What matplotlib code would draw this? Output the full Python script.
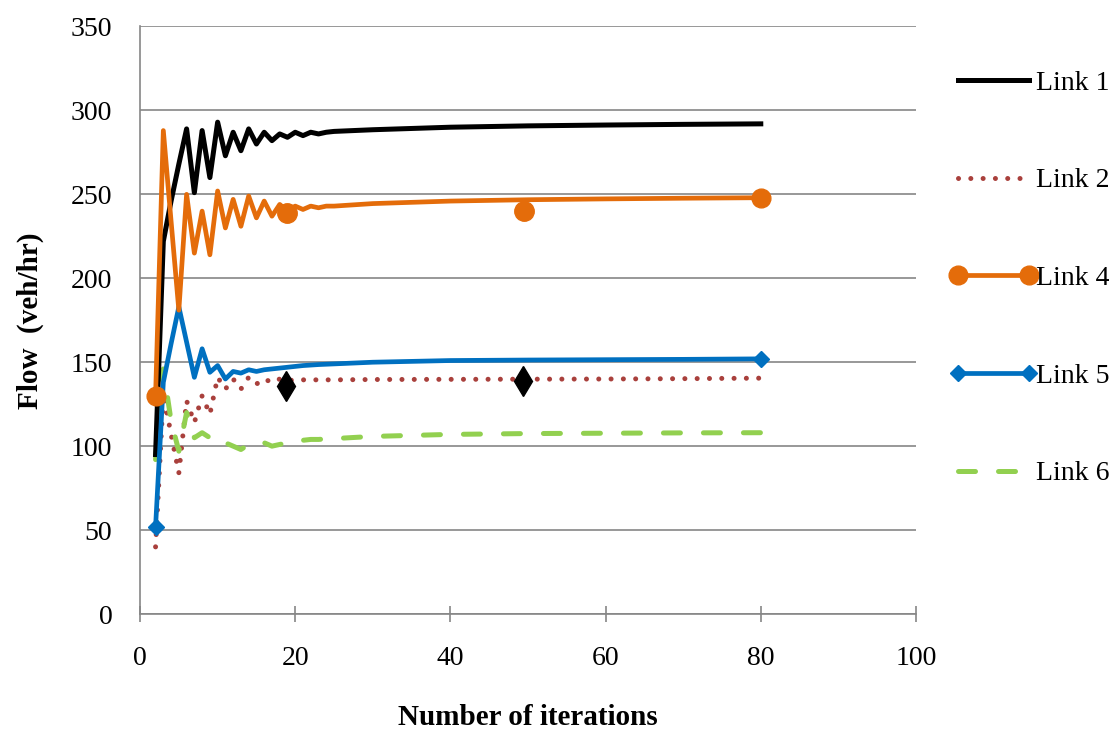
import matplotlib
matplotlib.use("Agg")
import matplotlib.pyplot as plt

plt.rcParams['font.family'] = ['Liberation Serif', 'DejaVu Serif']

# ---- data ----
iters = [2, 3, 4, 5, 6, 7, 8, 9, 10, 11, 12, 13, 14, 15, 16, 17, 18, 19, 20,
         21, 22, 23, 24, 25, 30, 40, 50, 60, 70, 80]
link1 = [95, 222, 246, 268, 289, 251, 288, 260, 293, 273, 287, 276, 289, 280,
         287, 282, 286, 284, 287, 285, 287, 286, 287, 287.5, 288.5, 290, 290.8,
         291.3, 291.7, 292]
link2 = [40, 131, 107, 84, 127, 114, 130, 119, 141, 134, 140, 134, 141, 137,
         140, 138, 140, 139, 139.5, 139.5, 139.5, 139.5, 139.5, 139.5, 139.7,
         139.8, 139.9, 140, 140.2, 140.5]
link4 = [130, 288, 234, 181, 250, 215, 240, 214, 252, 230, 247, 231, 249, 236,
         246, 237, 244, 240, 243, 241, 243, 242, 243, 243, 244.5, 246, 246.8,
         247.3, 247.7, 248]
link5 = [52, 138, 161, 183, 162, 141, 158, 144, 148, 140, 144.5, 143.5, 145.5,
         144.5, 145.5, 146, 146.5, 147, 147.5, 148, 148.3, 148.6, 148.8, 149,
         150, 151, 151.3, 151.5, 151.7, 152]
link6 = [92, 146, 115, 97, 120, 105, 108, 105, 106, 102, 100, 98, 101, 102.5,
         102, 100, 101, 102, 103, 103.5, 104, 104, 104.3, 104.5, 105.8, 107,
         107.5, 107.7, 107.9, 108]

# separately marked points
link4_pts_x = [19, 49.5]
link4_pts = [238.6, 240.2]
link2_pts_x = [18.8, 49.4]
link2_pts = [135.7, 138.7]

# marker positions on the lines (first and last point)
marker_idx = [0, len(iters) - 1]

xticks = [0, 20, 40, 60, 80, 100]
yticks = [0, 50, 100, 150, 200, 250, 300, 350]

# ---- style ----
C1 = '#000000'
C2 = '#A9403C'
C4 = '#E46C0A'
C5 = '#0070C0'
C6 = '#92D050'
GRID = '#868686'
FS = 20

fig = plt.figure(figsize=(11.15, 7.32), dpi=100)
ax = fig.add_axes([0.1256, 0.1612, 0.6959, 0.8026])

ax.plot(iters, link1, color=C1, lw=3.6, solid_joinstyle='round', label='Link 1', zorder=5)
ax.plot(iters, link2, color=C2, lw=3.6, linestyle=(0, (0.01, 2.45)),
        dash_capstyle='round', label='Link 2', zorder=4)
ax.plot(iters, link4, color=C4, lw=3.4, marker='o', ms=13.5, markevery=marker_idx,
        solid_joinstyle='round', label='Link 4', zorder=6)
ax.plot(iters, link5, color=C5, lw=3.4, marker='D', ms=8.5, markevery=marker_idx,
        solid_joinstyle='round', label='Link 5', zorder=5)
ax.plot(iters, link6, color=C6, lw=3.6, linestyle=(0, (3.4, 4.6)),
        dash_capstyle='round', label='Link 6', zorder=4)

ax.plot(link4_pts_x, link4_pts, linestyle='none', marker='o', ms=14, color=C4, zorder=7)
ax.plot(link2_pts_x, link2_pts, linestyle='none', marker='d', ms=15, color='black', zorder=7)

ax.set_xlim(0, 100)
ax.set_ylim(0, 350)
ax.set_xticks(xticks)
ax.set_yticks(yticks)
ax.tick_params(axis='x', direction='inout', length=12, width=1.2, color=GRID,
               labelsize=FS, pad=17)
ax.tick_params(axis='y', length=0, labelsize=FS, pad=20)

ax.grid(axis='y', color=GRID, lw=1.2)
ax.set_axisbelow(True)
for s in ['top', 'right']:
    ax.spines[s].set_visible(False)
for s in ['left', 'bottom']:
    ax.spines[s].set_color(GRID)
    ax.spines[s].set_linewidth(1.2)

ax.set_xlabel('Number of iterations', fontsize=21, fontweight='bold', labelpad=24)
ax.set_ylabel('Flow  (veh/hr)', fontsize=21, fontweight='bold', labelpad=19)

handles, labels = ax.get_legend_handles_labels()
leg = fig.legend(handles, labels, loc='upper left', bbox_to_anchor=(0.852, 0.904),
                 frameon=False, fontsize=FS, handlelength=3.15, handletextpad=-0.05,
                 labelspacing=2.6, numpoints=2, borderpad=0, borderaxespad=0)

fig.savefig('out.png', dpi=100)
